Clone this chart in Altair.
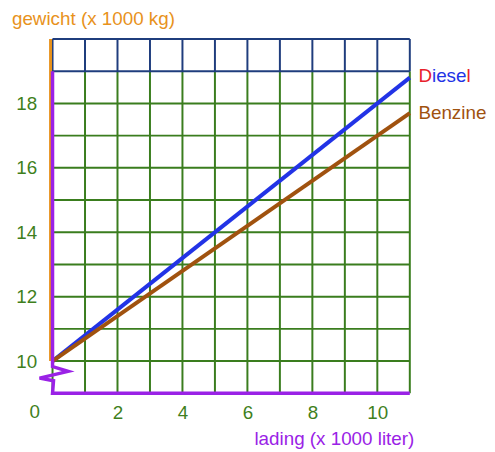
import altair as alt
import pandas as pd

# ---- data ----
litres = [0, 11]
diesel_kg = [10, 18.8]
benzine_kg = [10, 17.7]

x_ticks = [2, 4, 6, 8, 10]
y_ticks = [10, 12, 14, 16, 18]
x_grid = list(range(0, 12))
y_grid_green = list(range(10, 19))
y_grid_navy = [19, 20]

# purple axis with break (zigzag) and bottom line
axis_x = [0, 0, 0, 0.48, -0.40, 0.03, 0, 11]
axis_y = [19, 10, 9.83, 9.68, 9.47, 9.39, 9, 9]

FONT = "Liberation Sans"
FS = 19
GREEN = "#3a7d1e"
NAVY = "#1f3d7d"
LABEL = "#3f7f1c"
ORANGE = "#e8921c"
PURPLE = "#9a22e6"
BLUE = "#2233e6"
BROWN = "#a0520f"
RED = "#e8202a"

xs = alt.Scale(domain=[0, 11], nice=False, zero=False)
ys = alt.Scale(domain=[9, 20], nice=False, zero=False)
x_axis = alt.Axis(values=x_ticks, domain=False, ticks=False, grid=False, title=None,
                  labelFontSize=FS, labelFont=FONT, labelColor=LABEL, labelPadding=10)
y_axis = alt.Axis(values=y_ticks, domain=False, ticks=False, grid=False, title=None,
                  labelFontSize=FS, labelFont=FONT, labelColor=LABEL, labelPadding=16)

X = lambda f: alt.X(f, type="quantitative", scale=xs, axis=x_axis)
Y = lambda f: alt.Y(f, type="quantitative", scale=ys, axis=y_axis)

# grid
vg_green = pd.DataFrame({"x": x_grid, "y": [9] * len(x_grid), "y2": [19] * len(x_grid)})
vg_navy = pd.DataFrame({"x": x_grid, "y": [19] * len(x_grid), "y2": [20] * len(x_grid)})
hg_green = pd.DataFrame({"y": y_grid_green, "x": [0] * len(y_grid_green), "x2": [11] * len(y_grid_green)})
hg_navy = pd.DataFrame({"y": y_grid_navy, "x": [0] * len(y_grid_navy), "x2": [11] * len(y_grid_navy)})

vgreen = alt.Chart(vg_green).mark_rule(color=GREEN, strokeWidth=2).encode(x=X("x"), y=Y("y"), y2="y2")
vnavy = alt.Chart(vg_navy).mark_rule(color=NAVY, strokeWidth=2).encode(x=X("x"), y=Y("y"), y2="y2")
hgreen = alt.Chart(hg_green).mark_rule(color=GREEN, strokeWidth=2).encode(y=Y("y"), x=X("x"), x2="x2")
hnavy = alt.Chart(hg_navy).mark_rule(color=NAVY, strokeWidth=2).encode(y=Y("y"), x=X("x"), x2="x2")

# axes lines
orange = alt.Chart(pd.DataFrame({"x": [0], "y": [10], "y2": [20]})).mark_rule(
    color=ORANGE, strokeWidth=3, xOffset=-2).encode(x=X("x"), y=Y("y"), y2="y2")
ax_df = pd.DataFrame({"x": axis_x, "y": axis_y, "o": list(range(len(axis_x)))})
purple = alt.Chart(ax_df).mark_line(color=PURPLE, strokeWidth=3.5, strokeJoin="miter").encode(
    x=X("x"), y=Y("y"), order="o:Q")

# data lines
df = pd.DataFrame({
    "liter": litres * 2,
    "kg": diesel_kg + benzine_kg,
    "brandstof": ["Diesel"] * 2 + ["Benzine"] * 2,
})
lines = alt.Chart(df).mark_line(strokeWidth=4).encode(
    x=X("liter"),
    y=Y("kg"),
    color=alt.Color("brandstof:N", scale=alt.Scale(domain=["Diesel", "Benzine"], range=[BLUE, BROWN]),
                    legend=None),
    order="liter:Q",
)

def txt(s, x, y, color, align="left", baseline="alphabetic"):
    return alt.Chart(pd.DataFrame({"t": [s]})).mark_text(
        fontSize=FS, font=FONT, color=color, align=align, baseline=baseline).encode(
        text="t:N", x=alt.value(x), y=alt.value(y))

texts = [
    txt("0", -18, 377, LABEL, align="center", baseline="middle"),
    txt("gewicht (x 1000 kg)", -41, -14, ORANGE),
    txt("lading (x 1000 liter)", 204, 410, PURPLE),
    txt("D", 369.7, 43, RED),
    txt("iese", 383.4, 43, BLUE),
    txt("l", 418.2, 43, RED),
    txt("Benzine", 369.7, 81, BROWN),
]

chart = alt.layer(vgreen, vnavy, hgreen, hnavy, lines, orange, purple, *texts).properties(
    width=361, height=358,
    padding={"left": 45, "top": 29, "right": 78, "bottom": 57},
    autosize="none",
).configure_view(stroke=None)

chart.save("out.html", embed_options={"renderer": "svg", "actions": False})
